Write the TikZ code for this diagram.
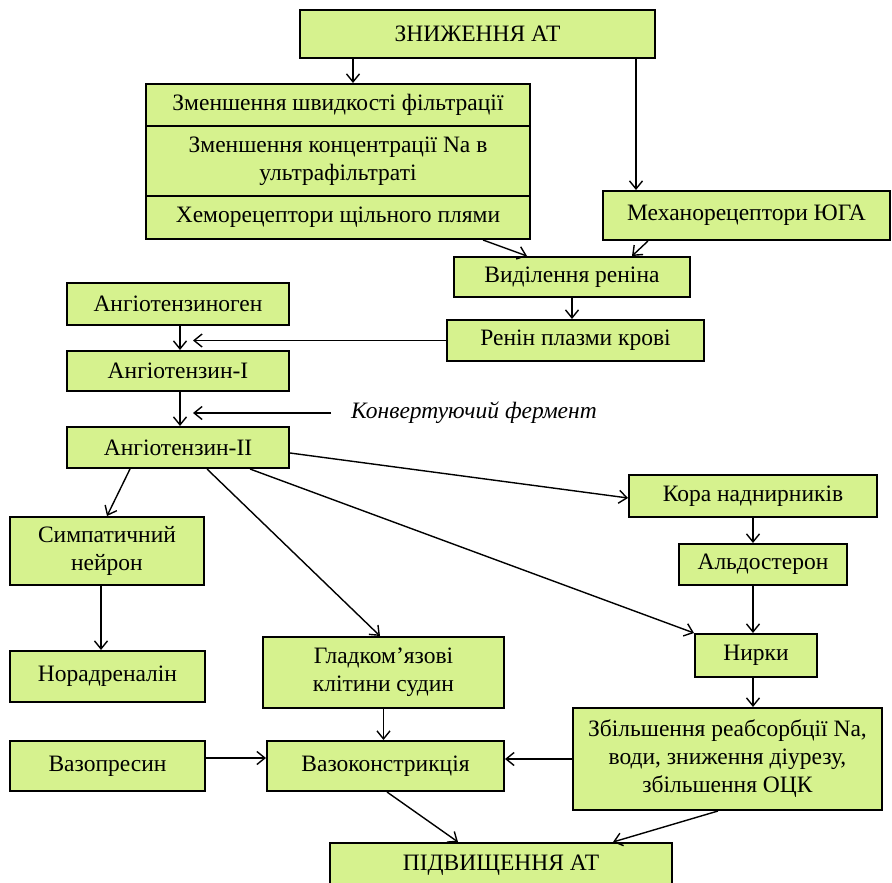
\documentclass[tikz,border=0pt]{standalone}
\usepackage{fontspec}
\setmainfont{Liberation Serif}
\usetikzlibrary{
    calc,positioning,arrows.meta
}
\definecolor{boxgreen}{RGB}{214,242,142}
\tikzset{
    box/.style={draw=black, line width=2pt, fill=boxgreen, align=center,
        inner sep=2pt, font=\fontsize{23.5}{28}\selectfont},
    link/.style={line width=1.4pt, -{Straight Barb[length=8pt,width=13pt,line width=1.4pt]}}
}

\begin{document}
\begin{tikzpicture}[x=1pt,y=-1pt]
                    \clip (0,0) rectangle (892,883);
                    % Top
                    \node[box, minimum width=355, minimum height=48] (low) at (477.5,34) {ЗНИЖЕННЯ АТ};
                    % Stack
                    \node[box, minimum width=384, minimum height=42] (filt) at (338,105) {Зменшення швидкості фільтрації};
                    \node[box, minimum width=384, minimum height=70] (natr) at (338,161) {Зменшення концентрації Na в\\ультрафільтраті};
                    \node[box, minimum width=384, minimum height=43] (chem) at (338,217.5) {Хеморецептори щільного плями};
                    \node[box, minimum width=287, minimum height=49] (mech) at (746.5,215.5) {Механорецептори ЮГА};
                    % Renin
                    \node[box, minimum width=236, minimum height=40] (rel) at (572,277) {Виділення реніна};
                    \node[box, minimum width=257, minimum height=41] (plasma) at (575.5,340.5) {Ренін плазми крові};
                    % Angiotensin
                    \node[box, minimum width=222, minimum height=42] (agen) at (178,304) {Ангіотензиноген};
                    \node[box, minimum width=222, minimum height=40] (ang1) at (178,371) {Ангіотензин-І};
                    \node[box, minimum width=222, minimum height=41] (ang2) at (178,447.5) {Ангіотензин-ІІ};
                    \node[font=\fontsize{23.5}{28}\selectfont\itshape, inner sep=0pt] (enz) at (474,413) {Конвертуючий фермент};
                    \coordinate (in1) at (193,340.5);
                    \coordinate (in2) at (193,413);
                    % Targets
                    \node[box, minimum width=248, minimum height=42] (cortex) at (753,496) {Кора наднирників};
                    \node[box, minimum width=168, minimum height=41] (aldo) at (763,564.5) {Альдостерон};
                    \node[box, minimum width=194, minimum height=68] (symp) at (107,551) {Симпатичний\\нейрон};
                    \node[box, minimum width=195, minimum height=51] (nora) at (107.5,676.5) {Норадреналін};
                    \node[box, minimum width=241, minimum height=71] (smooth) at (383.5,672.5) {Гладком’язові\\клітини судин};
                    \node[box, minimum width=122, minimum height=43] (kidney) at (756,655.5) {Нирки};
                    \node[box, minimum width=309, minimum height=102] (reabs) at (727.5,759) {Збільшення реабсорбції Na,\\води, зниження діурезу,\\збільшення ОЦК};
                    \node[box, minimum width=195, minimum height=50] (vpres) at (107.5,766) {Вазопресин};
                    \node[box, minimum width=237, minimum height=50] (vcon) at (385.5,766) {Вазоконстрикція};
                    % Bottom
                    \node[box, minimum width=342, minimum height=44] (rise) at (501,865) {ПІДВИЩЕННЯ АТ};
                    % Arrows
                    \draw[link] ([xshift=-124.5]low.south) -- ([xshift=15]filt.north);
                    \draw[link] ([xshift=158.5]low.south) -- ([xshift=-110.5]mech.north);
                    \draw[link] ([xshift=145]chem.south) -- ([xshift=-45]rel.north);
                    \draw[link] ([xshift=-98.5]mech.south) -- ([xshift=60]rel.north);
                    \draw[link] (rel.south) -- (rel.south |- plasma.north);
                    \draw[link] (plasma.west) -- (in1);
                    \draw[link] ([xshift=2]agen.south) -- ([xshift=2]ang1.north);
                    \draw[link] ([xshift=2]ang1.south) -- ([xshift=2]ang2.north);
                    \draw[link] ([xshift=-20]enz.west) -- (in2);
                    \draw[link] ([xshift=-48]ang2.south) -- (symp.north);
                    \draw[link] ([xshift=-6]symp.south) -- ([xshift=-6]symp.south |- nora.north);
                    \draw[link] ([xshift=29]ang2.south) -- ([xshift=-3.5]smooth.north);
                    \draw[link] ([xshift=72]ang2.south) -- (kidney.north west);
                    \draw[link] ([yshift=-5.5]ang2.east) -- ([yshift=-2]cortex.west);
                    \draw[link] (cortex.south) -- (cortex.south |- aldo.north);
                    \draw[link] ([xshift=-10]aldo.south) -- ([xshift=-10]aldo.south |- kidney.north);
                    \draw[link] ([xshift=-3]kidney.south) -- ([xshift=-3]kidney.south |- reabs.north);
                    \draw[link] ([yshift=8]vpres.east) -- ([yshift=8]vcon.west);
                    \draw[link] (smooth.south) -- (smooth.south |- vcon.north);
                    \draw[link] (reabs.west) -- (reabs.west -| vcon.east);
                    \draw[link] ([xshift=1.5]vcon.south) -- ([xshift=-43]rise.north);
                    \draw[link] ([xshift=-9.5]reabs.south) -- ([xshift=112]rise.north);
                \end{tikzpicture}
\end{document}
